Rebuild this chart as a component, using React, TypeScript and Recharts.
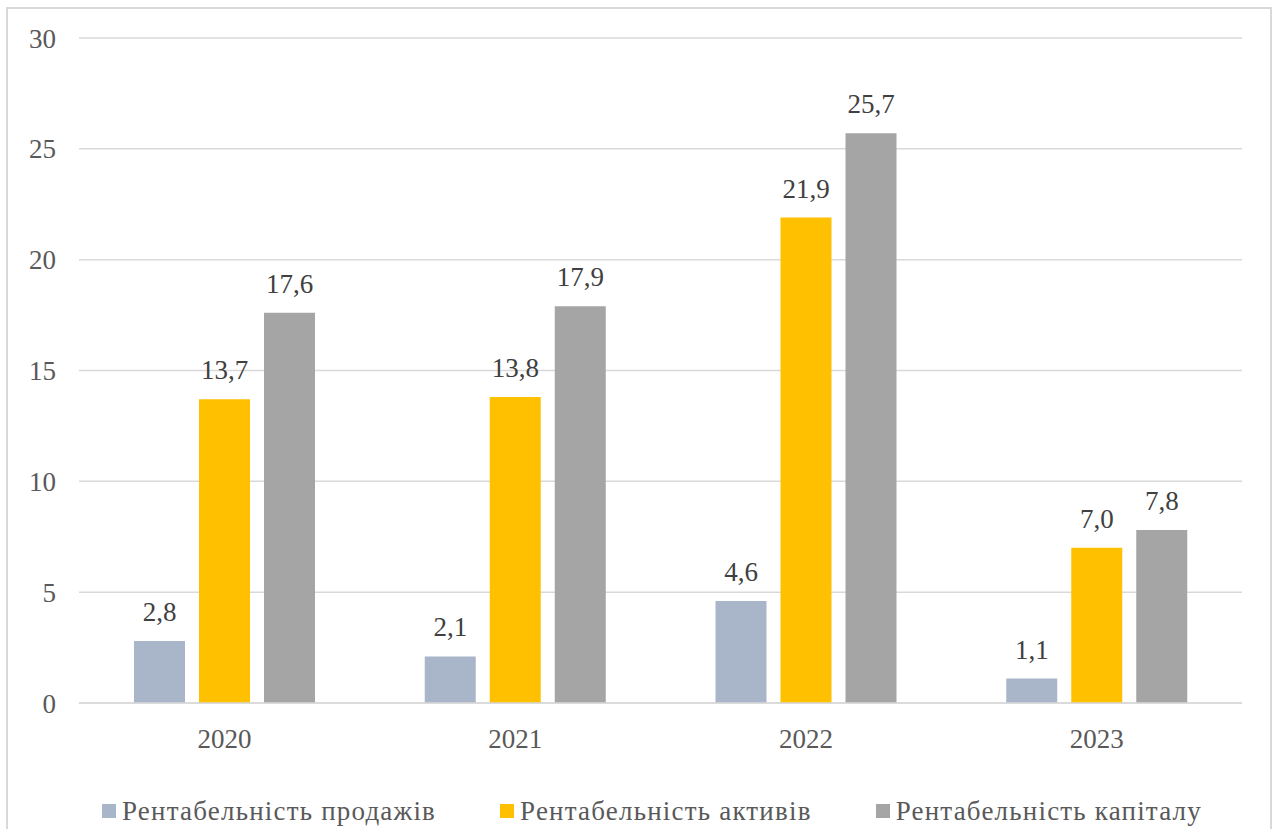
import { BarChart, Bar, XAxis, YAxis, CartesianGrid, Legend, LabelList } from "recharts";

const years = ["2020", "2021", "2022", "2023"];
const salesProfit = [2.8, 2.1, 4.6, 1.1];
const assetsProfit = [13.7, 13.8, 21.9, 7.0];
const equityProfit = [17.6, 17.9, 25.7, 7.8];
const seriesNames = ["Рентабельність продажів", "Рентабельність активів", "Рентабельність капіталу"];
const yTicks = [0, 5, 10, 15, 20, 25, 30];

const data = years.map((year, i) => ({
  year,
  sales: salesProfit[i],
  assets: assetsProfit[i],
  equity: equityProfit[i],
}));

const FONT = "'Liberation Serif', 'DejaVu Serif', serif";
const tickStyle = { fontSize: 27, fill: "#595959", fontFamily: FONT };
const labelStyle = { fontSize: 27, fill: "#404040", fontFamily: FONT };

const fmt = (v: any) => Number(v).toFixed(1).replace(".", ",");

function LegendContent(props: any) {
  const items = [...(props.payload || [])].sort(
    (a: any, b: any) => seriesNames.indexOf(a.value) - seriesNames.indexOf(b.value)
  );
  return (
    <div
      style={{
        display: "flex",
        justifyContent: "center",
        paddingLeft: 62,
        height: 34,
        lineHeight: "34px",
        fontFamily: FONT,
        fontSize: 27,
        letterSpacing: 1.2,
        color: "#595959",
      }}
    >
      {items.map((entry: any, i: number) => (
        <span
          key={i}
          style={{
            display: "inline-flex",
            alignItems: "center",
            marginRight: i < items.length - 1 ? 64 : 0,
            whiteSpace: "nowrap",
          }}
        >
          <span
            style={{
              display: "inline-block",
              width: 14,
              height: 14,
              background: entry.color,
              marginRight: 6,
            }}
          />
          {entry.value}
        </span>
      ))}
    </div>
  );
}

export default function App() {
  return (
    <div style={{ position: "absolute", left: 0, top: 0, width: 1275, height: 829, background: "#fff", overflow: "hidden", fontFamily: FONT }}>
      <div
        style={{
          position: "absolute",
          left: 6,
          top: 7,
          width: 1262,
          height: 840,
          border: "2px solid #D9D9D9",
        }}
      />
      <div style={{ position: "absolute", left: 0, top: 0 }}>
        <BarChart
          width={1275}
          height={829}
          data={data}
          margin={{ top: 38, right: 33, left: 0, bottom: 1 }}
          barSize={51}
          barGap={14}
          style={{ fontFamily: FONT }}
        >
          <CartesianGrid vertical={false} stroke="#D9D9D9" strokeWidth={1.5} />
          <XAxis
            dataKey="year"
            height={91}
            tick={tickStyle}
            tickLine={false}
            axisLine={{ stroke: "#D9D9D9", strokeWidth: 1.5 }}
            tickMargin={20}
          />
          <YAxis
            width={79}
            domain={[0, 30]}
            ticks={yTicks}
            tick={tickStyle}
            tickLine={false}
            axisLine={false}
            tickMargin={17}
          />
          <Legend verticalAlign="bottom" content={LegendContent} />
          <Bar dataKey="sales" name={seriesNames[0]} fill="#A9B6C9" isAnimationActive={false}>
            <LabelList dataKey="sales" position="top" offset={20} formatter={fmt} style={labelStyle} />
          </Bar>
          <Bar dataKey="assets" name={seriesNames[1]} fill="#FFC000" isAnimationActive={false}>
            <LabelList dataKey="assets" position="top" offset={20} formatter={fmt} style={labelStyle} />
          </Bar>
          <Bar dataKey="equity" name={seriesNames[2]} fill="#A5A5A5" isAnimationActive={false}>
            <LabelList dataKey="equity" position="top" offset={20} formatter={fmt} style={labelStyle} />
          </Bar>
        </BarChart>
      </div>
    </div>
  );
}
